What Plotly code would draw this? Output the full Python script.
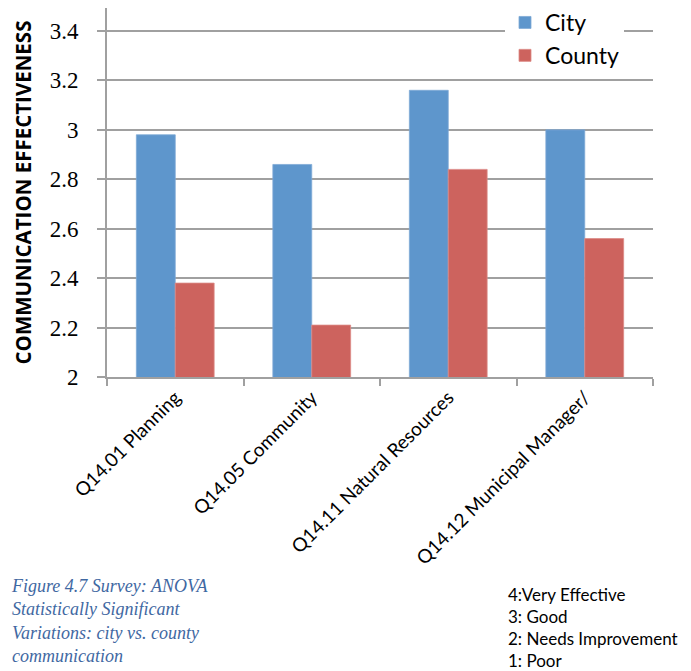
import plotly.graph_objects as go

categories = ["Q14.01 Planning", "Q14.05 Community", "Q14.11 Natural Resources", "Q14.12 Municipal Manager/"]
city = [2.98, 2.86, 3.16, 3.00]
county = [2.38, 2.21, 2.84, 2.56]
y_ticks = [2, 2.2, 2.4, 2.6, 2.8, 3, 3.2, 3.4]
y_ticktext = ["2", "2.2", "2.4", "2.6", "2.8", "3", "3.2", "3.4"]
caption_lines = ["Figure 4.7 Survey: ANOVA", "Statistically Significant",
                 "Variations: city vs. county", "communication"]
scale_lines = ["4:Very Effective", "3: Good", "2: Needs Improvement", "1: Poor"]

OFF = 8  # page body margin
W, H = 691 - OFF, 671 - OFF
L, R, T, B = 107 - OFF, 38, 0, 294
PW, PH = W - L - R, H - T - B

def px(x):
    return (x - OFF - L) / PW

def py(y):
    return (H - B - (y - OFF)) / PH

fig = go.Figure()
fig.add_trace(go.Bar(name="City", x=categories, y=city, marker=dict(color="#5E96CC", line=dict(color="#7FAAD6", width=0.8))))
fig.add_trace(go.Bar(name="County", x=categories, y=county, marker=dict(color="#CD635E", line=dict(color="#DC8A86", width=0.8))))

fig.update_layout(
    width=W, height=H,
    margin=dict(l=L, r=R, t=T, b=B, autoexpand=False),
    paper_bgcolor="white", plot_bgcolor="white",
    barmode="group", bargap=0.43, bargroupgap=0,
    showlegend=True,
    legend=dict(x=px(505), y=py(1), xanchor="left", yanchor="top",
                bgcolor="white", font=dict(family="Lato", size=23, color="black"),
                itemwidth=30, tracegroupgap=0),
    font=dict(family="Lato", color="black"),
)
fig.update_xaxes(
    type="category", tickangle=-45, tickson="boundaries", ticks="outside", ticklen=7,
    tickcolor="#A0A0A0", tickwidth=2, showline=True, linecolor="#A0A0A0", linewidth=2,
    showgrid=False, tickfont=dict(family="Lato", size=19, color="black"),
)
fig.update_yaxes(
    range=[2, 3.493], tickvals=y_ticks, ticktext=y_ticktext, ticks="outside", ticklen=8,
    tickcolor="#A0A0A0", tickwidth=2, showline=True, linecolor="#A0A0A0", linewidth=2,
    showgrid=True, gridcolor="#A0A0A0", gridwidth=2, zeroline=False, ticklabelstandoff=14,
    tickfont=dict(family="Liberation Serif", size=23, color="black"),
    title=dict(text="<b>COMMUNICATION EFFECTIVENESS</b>", standoff=12,
               font=dict(family="Open Sans", size=20.5, color="black")),
)

fig.add_annotation(xref="paper", yref="paper", x=px(9), y=py(574), xanchor="left", yanchor="top",
                   align="left", showarrow=False, text="<br>".join("<i>%s</i>" % s for s in caption_lines),
                   font=dict(family="Liberation Serif", size=18, color="#3F68A2"))
fig.add_annotation(xref="paper", yref="paper", x=px(506), y=py(582), xanchor="left", yanchor="top",
                   align="left", showarrow=False, text="<br>".join(scale_lines),
                   font=dict(family="Lato", size=17, color="black"))

fig.write_html("out.html")
